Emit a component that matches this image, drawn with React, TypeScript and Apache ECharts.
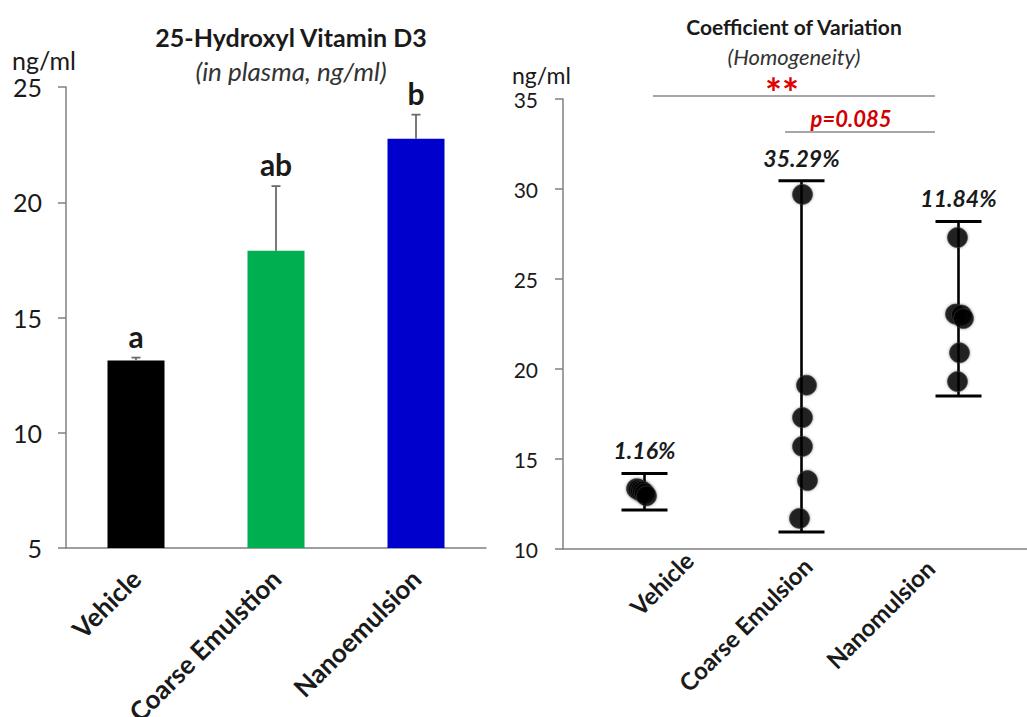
import React, { useEffect, useRef } from "react";
import * as echarts from "echarts";

// ---- Left panel data: 25-Hydroxyl Vitamin D3 (ng/ml) ----
const leftCategories = ["Vehicle", "Coarse Emulstion", "Nanoemulsion"];
const meanValues = [13.13, 17.9, 22.75];
const errorValues = [0.13, 2.8, 1.05];
const groupLetters = ["a", "ab", "b"];
const barColors = ["#000000", "#00B050", "#0000CC"];
const leftAxisMin = 5;
const leftAxisMax = 25;
const leftAxisStep = 5;

// ---- Right panel data: Coefficient of Variation ----
const rightCategories = ["Vehicle", "Coarse Emulsion", "Nanomulsion"];
const vehiclePoints = [13.35, 13.3, 13.25, 13.2, 13.1, 12.95];
const coarsePoints = [29.7, 19.1, 17.3, 15.7, 13.8, 11.7];
const nanoPoints = [27.3, 23.05, 23.0, 22.8, 20.9, 19.3];
const rangeLow = [12.17, 10.94, 18.5];
const rangeHigh = [14.2, 30.46, 28.2];
const cvLabels = ["1.16%", "35.29%", "11.84%"];
const rightAxisMin = 10;
const rightAxisMax = 35;
const rightAxisStep = 5;

// small horizontal jitter of overlapping dots (pixels)
const vehicleJitter = [-5, -3, -1, 1, 3, 5];
const coarseJitter = [4, 8, 4, 4, 9, 1];
const nanoJitter = [2, 0, 6, 8, 4, 2];
// label shifts of the right panel's category labels: [along text, perpendicular down] (px)
const rightLabelShift = [
  [37, 30],
  [6, 7],
  [-20, -16],
];

const FONT = "Lato, 'Open Sans', sans-serif";
const AXIS_GRAY = "#808080";
const TEXT = "#1a1a1a";
const RIGHT_LABEL_SIZE = 24;

function measure(text: string, font: string): number {
  const c = document.createElement("canvas").getContext("2d");
  if (!c) return text.length * 12;
  c.font = font;
  return c.measureText(text).width;
}

export default function App() {
  const ref = useRef<HTMLDivElement>(null);

  useEffect(() => {
    if (!ref.current) return;
    const chart = echarts.init(ref.current, undefined, { renderer: "svg" });

    const pointSeries = [vehiclePoints, coarsePoints, nanoPoints];
    const jitters = [vehicleJitter, coarseJitter, nanoJitter];
    const scatterData: any[] = [];
    pointSeries.forEach((pts, gi) => {
      pts.forEach((v, k) => {
        scatterData.push({ value: [gi, v], symbolOffset: [jitters[gi][k], 0] });
      });
    });

    // shift rotated labels: along-text via centred alignment + horizontal padding,
    // perpendicular via top/bottom alignment with a matching line height
    const rightAxisData = rightCategories.map((name, i) => {
      const w = measure(name, `bold ${RIGHT_LABEL_SIZE}px Lato`);
      const [f, d] = rightLabelShift[i];
      const diff = 2 * f - w;
      const pl = diff >= 0 ? diff : 0;
      const pr = diff < 0 ? -diff : 0;
      return {
        value: name,
        textStyle: {
          align: "center",
          verticalAlign: d >= 0 ? "top" : "bottom",
          lineHeight: Math.max(2 * Math.abs(d), 1),
          padding: [0, pr, 0, pl],
        },
      };
    });

    const option: any = {
      animation: false,
      backgroundColor: "#ffffff",
      textStyle: { fontFamily: FONT },
      title: [
        {
          text: "25-Hydroxyl Vitamin D3",
          subtext: "(in plasma, ng/ml)",
          left: 286,
          top: 19,
          textAlign: "center",
          itemGap: 9,
          textStyle: { fontFamily: FONT, fontSize: 25, fontWeight: "bold", color: TEXT },
          subtextStyle: { fontFamily: FONT, fontSize: 26, fontStyle: "italic", color: "#333" },
        },
        {
          text: "Coefficient of Variation",
          subtext: "(Homogeneity)",
          left: 789,
          top: 11,
          textAlign: "center",
          itemGap: 8,
          textStyle: { fontFamily: FONT, fontSize: 21, fontWeight: "bold", color: TEXT },
          subtextStyle: { fontFamily: FONT, fontSize: 22, fontStyle: "italic", color: "#333" },
        },
      ],
      grid: [
        { left: 66, top: 87, width: 420, height: 461, outerBoundsMode: "none", containLabel: false },
        { left: 563, top: 99, width: 471, height: 450, outerBoundsMode: "none", containLabel: false },
      ],
      xAxis: [
        {
          type: "category",
          gridIndex: 0,
          data: leftCategories,
          axisLine: { lineStyle: { color: AXIS_GRAY, width: 1.5 } },
          axisTick: { length: 7, lineStyle: { color: AXIS_GRAY, width: 1.5 } },
          axisLabel: {
            rotate: 45,
            margin: 26,
            fontFamily: FONT,
            fontSize: 26,
            fontWeight: "bold",
            color: TEXT,
            interval: 0,
          },
        },
        {
          type: "category",
          gridIndex: 1,
          data: rightAxisData,
          axisLine: { lineStyle: { color: AXIS_GRAY, width: 1.5 } },
          axisTick: { length: 7, lineStyle: { color: AXIS_GRAY, width: 1.5 } },
          axisLabel: {
            rotate: 45,
            margin: 12,
            fontFamily: FONT,
            fontSize: RIGHT_LABEL_SIZE,
            fontWeight: "bold",
            color: TEXT,
            interval: 0,
          },
        },
      ],
      yAxis: [
        {
          type: "value",
          gridIndex: 0,
          min: leftAxisMin,
          max: leftAxisMax,
          interval: leftAxisStep,
          splitLine: { show: false },
          axisLine: { show: true, lineStyle: { color: AXIS_GRAY, width: 1.5 } },
          axisTick: { show: true, length: 8, lineStyle: { color: AXIS_GRAY, width: 1.5 } },
          axisLabel: { margin: 24, fontFamily: FONT, fontSize: 25, color: TEXT },
        },
        {
          type: "value",
          gridIndex: 1,
          min: rightAxisMin,
          max: rightAxisMax,
          interval: rightAxisStep,
          splitLine: { show: false },
          axisLine: { show: true, lineStyle: { color: AXIS_GRAY, width: 1.5 } },
          axisTick: { show: true, length: 8, lineStyle: { color: AXIS_GRAY, width: 1.5 } },
          axisLabel: { margin: 25, fontFamily: FONT, fontSize: 21, color: TEXT },
        },
      ],
      series: [
        {
          type: "bar",
          xAxisIndex: 0,
          yAxisIndex: 0,
          barWidth: 57,
          data: meanValues.map((v, i) => ({ value: v, itemStyle: { color: barColors[i] } })),
          z: 2,
        },
        {
          type: "custom",
          xAxisIndex: 0,
          yAxisIndex: 0,
          z: 3,
          encode: { x: 0, y: 1 },
          data: meanValues.map((v, i) => [i, v, errorValues[i]]),
          renderItem: (params: any, api: any) => {
            const idx = api.value(0);
            const mean = api.value(1);
            const err = api.value(2);
            const base = api.coord([idx, mean]);
            const top = api.coord([idx, mean + err]);
            const stroke = { stroke: "#6a6a6a", lineWidth: 1.8 };
            return {
              type: "group",
              children: [
                { type: "line", shape: { x1: base[0], y1: base[1], x2: top[0], y2: top[1] }, style: stroke },
                { type: "line", shape: { x1: top[0] - 4.5, y1: top[1], x2: top[0] + 4.5, y2: top[1] }, style: stroke },
                {
                  type: "text",
                  x: top[0],
                  y: top[1] - 7,
                  style: {
                    text: groupLetters[params.dataIndex],
                    fontFamily: FONT,
                    fontSize: 30,
                    fontWeight: "bold",
                    fill: TEXT,
                    align: "center",
                    verticalAlign: "bottom",
                  },
                },
              ],
            };
          },
        },
        {
          type: "custom",
          xAxisIndex: 1,
          yAxisIndex: 1,
          z: 2,
          encode: { x: 0, y: [1, 2] },
          data: rangeLow.map((lo, i) => [i, lo, rangeHigh[i]]),
          renderItem: (params: any, api: any) => {
            const idx = api.value(0);
            const lo = api.coord([idx, api.value(1)]);
            const hi = api.coord([idx, api.value(2)]);
            const x = lo[0] + 3;
            const stroke = { stroke: "#000", lineWidth: 3 };
            return {
              type: "group",
              children: [
                { type: "line", shape: { x1: x, y1: lo[1], x2: x, y2: hi[1] }, style: { stroke: "#000", lineWidth: 2.6 } },
                { type: "line", shape: { x1: x - 23, y1: lo[1], x2: x + 23, y2: lo[1] }, style: stroke },
                { type: "line", shape: { x1: x - 23, y1: hi[1], x2: x + 23, y2: hi[1] }, style: stroke },
                {
                  type: "text",
                  x: x,
                  y: hi[1] - 23,
                  style: {
                    text: cvLabels[params.dataIndex],
                    fontFamily: FONT,
                    fontSize: 23,
                    fontWeight: "bold",
                    fontStyle: "italic",
                    fill: TEXT,
                    align: "center",
                    verticalAlign: "middle",
                  },
                },
              ],
            };
          },
        },
        {
          type: "scatter",
          xAxisIndex: 1,
          yAxisIndex: 1,
          z: 4,
          symbol: "circle",
          symbolSize: 20,
          itemStyle: {
            color: "#000",
            borderColor: "rgba(60,60,60,0.8)",
            borderWidth: 1,
            shadowBlur: 3,
            shadowColor: "rgba(0,0,0,0.45)",
          },
          data: scatterData,
        },
      ],
      graphic: [
        {
          type: "text",
          left: 12,
          top: 47,
          style: { text: "ng/ml", fontFamily: FONT, fontSize: 25, fill: TEXT },
        },
        {
          type: "text",
          left: 512,
          top: 63,
          style: { text: "ng/ml", fontFamily: FONT, fontSize: 23, fill: TEXT },
        },
        {
          type: "line",
          shape: { x1: 653, y1: 96, x2: 935, y2: 96 },
          style: { stroke: "#8a8a8a", lineWidth: 1.5 },
        },
        {
          type: "text",
          x: 782,
          y: 93,
          style: {
            text: "**",
            fontFamily: FONT,
            fontSize: 40,
            fontWeight: "bold",
            fill: "#E00000",
            align: "center",
            verticalAlign: "middle",
          },
        },
        {
          type: "line",
          shape: { x1: 785, y1: 132, x2: 935, y2: 132 },
          style: { stroke: "#8a8a8a", lineWidth: 1.5 },
        },
        {
          type: "text",
          x: 851,
          y: 118,
          style: {
            text: "p=0.085",
            fontFamily: FONT,
            fontSize: 22,
            fontWeight: "bold",
            fontStyle: "italic",
            fill: "#D00000",
            align: "center",
            verticalAlign: "middle",
          },
        },
      ],
    };

    chart.setOption(option);
    return () => chart.dispose();
  }, []);

  return (
    <div
      ref={ref}
      style={{ position: "fixed", left: 0, top: 0, width: 1027, height: 717, background: "#fff" }}
    />
  );
}
